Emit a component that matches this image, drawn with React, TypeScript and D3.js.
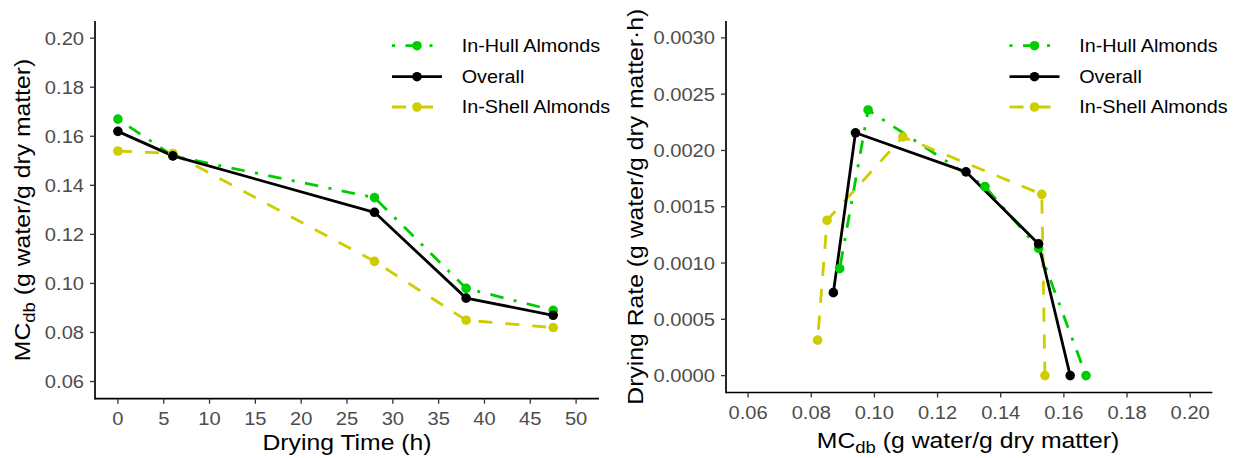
import React from "react";
import * as d3 from "d3";

// ---- data ----
const seriesNames = ["In-Hull Almonds", "Overall", "In-Shell Almonds"];
const dryingTimeH = [0, 6, 28, 38, 47.5];
const mcInHull = [0.167, 0.152, 0.135, 0.098, 0.089];
const mcOverall = [0.162, 0.152, 0.129, 0.094, 0.087];
const mcInShell = [0.154, 0.153, 0.109, 0.085, 0.082];
const rateInHull = [0, 0.00113, 0.00168, 0.00236, 0.00095];
const rateOverall = [0, 0.00117, 0.00181, 0.002157, 0.000737];
const rateInShell = [0, 0.00161, 0.00212, 0.00138, 0.000315];
const timeTicks = [0, 5, 10, 15, 20, 25, 30, 35, 40, 45, 50];
const mcTicks = [0.06, 0.08, 0.1, 0.12, 0.14, 0.16, 0.18, 0.2];
const rateTicks = [0, 0.0005, 0.001, 0.0015, 0.002, 0.0025, 0.003];

const FONT = "'Liberation Sans', Arial, sans-serif";
const SX = 1.1;
const TICK_COL = "#4D4D4D";

type Style = { color: string; dash: string | undefined };
const styles: Record<string, Style> = {
  "In-Hull Almonds": { color: "#00CD00", dash: "3,10.5,13.5,10.5" },
  Overall: { color: "#000000", dash: undefined },
  "In-Shell Almonds": { color: "#CDCD00", dash: "14,13" },
};
const drawOrder = ["In-Hull Almonds", "In-Shell Almonds", "Overall"];

function Txt(props: {
  x: number; y: number; rot?: number; anchor?: string; size: number; fill?: string; children: any;
}) {
  const { x, y, rot = 0, anchor = "start", size, fill = "#000", children } = props;
  return (
    <g transform={`translate(${x},${y}) rotate(${rot}) scale(${SX},1)`}>
      <text textAnchor={anchor as any} fontSize={size} fill={fill} fontFamily={FONT}>
        {children}
      </text>
    </g>
  );
}

function MCLabel() {
  return (
    <>
      <tspan>MC</tspan>
      <tspan fontSize="75%" dy={5}>db</tspan>
      <tspan dy={-5}> (g water/g dry matter)</tspan>
    </>
  );
}

type Panel = {
  x: d3.ScaleLinear<number, number>;
  y: d3.ScaleLinear<number, number>;
  xTicks: number[];
  yTicks: number[];
  xFmt: (v: number) => string;
  yFmt: (v: number) => string;
  data: Record<string, { xs: number[]; ys: number[] }>;
  legendX: number;
};

function PanelView({ p }: { p: Panel }) {
  const [x0, x1] = p.x.range();
  const [y0, y1] = p.y.range(); // y0 bottom, y1 top
  const line = d3.line<[number, number]>().x((d) => p.x(d[0])).y((d) => p.y(d[1]));
  const legendRows = [45.7, 76.7, 107];
  return (
    <g>
      {/* axes */}
      <line x1={x0} x2={x1} y1={y0} y2={y0} stroke="#000" strokeWidth={1.7} />
      <line x1={x0} x2={x0} y1={y0 + 0.85} y2={y1} stroke="#000" strokeWidth={1.7} />
      {p.xTicks.map((t) => (
        <g key={"xt" + t}>
          <line x1={p.x(t)} x2={p.x(t)} y1={y0} y2={y0 + 5} stroke="#333" strokeWidth={1.3} />
          <Txt x={p.x(t)} y={y0 + 26.3} anchor="middle" size={18.3} fill={TICK_COL}>
            {p.xFmt(t)}
          </Txt>
        </g>
      ))}
      {p.yTicks.map((t) => (
        <g key={"yt" + t}>
          <line x1={x0 - 5} x2={x0} y1={p.y(t)} y2={p.y(t)} stroke="#333" strokeWidth={1.3} />
          <Txt x={x0 - 11} y={p.y(t) + 6.5} anchor="end" size={18.3} fill={TICK_COL}>
            {p.yFmt(t)}
          </Txt>
        </g>
      ))}
      {/* lines */}
      {drawOrder.map((name) => {
        const s = styles[name];
        const d = p.data[name];
        const pts = d.xs.map((v, i) => [v, d.ys[i]] as [number, number]);
        return (
          <path key={"l" + name} d={line(pts) || ""} fill="none" stroke={s.color}
            strokeWidth={2.8} strokeDasharray={s.dash} strokeLinejoin="round" />
        );
      })}
      {/* points */}
      {drawOrder.map((name) => {
        const s = styles[name];
        const d = p.data[name];
        return d.xs.map((v, i) => (
          <circle key={"p" + name + i} cx={p.x(v)} cy={p.y(d.ys[i])} r={4.8} fill={s.color} />
        ));
      })}
      {/* legend */}
      {seriesNames.map((name, i) => {
        const s = styles[name];
        const yy = legendRows[i];
        return (
          <g key={"lg" + name}>
            <line x1={p.legendX} x2={p.legendX + 50} y1={yy} y2={yy} stroke={s.color}
              strokeWidth={2.8} strokeDasharray={s.dash} />
            <circle cx={p.legendX + 25} cy={yy} r={4.8} fill={s.color} />
            <Txt x={p.legendX + 69.7} y={yy + 6.4} size={18} fill="#000">{name}</Txt>
          </g>
        );
      })}
    </g>
  );
}

export default function App() {
  const left: Panel = {
    x: d3.scaleLinear().domain([-2.5, 52.5]).range([95, 599]),
    y: d3.scaleLinear().domain([0.053, 0.207]).range([398.7, 21]),
    xTicks: timeTicks,
    yTicks: mcTicks,
    xFmt: (v) => String(v),
    yFmt: d3.format(".2f"),
    data: {
      "In-Hull Almonds": { xs: dryingTimeH, ys: mcInHull },
      Overall: { xs: dryingTimeH, ys: mcOverall },
      "In-Shell Almonds": { xs: dryingTimeH, ys: mcInShell },
    },
    legendX: 392,
  };
  const right: Panel = {
    x: d3.scaleLinear().domain([0.053, 0.207]).range([726, 1212.3]),
    y: d3.scaleLinear().domain([-0.00015, 0.00315]).range([392.5, 21]),
    xTicks: mcTicks,
    yTicks: rateTicks,
    xFmt: d3.format(".2f"),
    yFmt: d3.format(".4f"),
    data: {
      "In-Hull Almonds": { xs: mcInHull, ys: rateInHull },
      Overall: { xs: mcOverall, ys: rateOverall },
      "In-Shell Almonds": { xs: mcInShell, ys: rateInShell },
    },
    legendX: 1009.5,
  };
  return (
    <svg width={1240} height={458} style={{ position: "absolute", left: 0, top: 0, background: "#fff" }}
      fontFamily={FONT}>
      <rect width={1240} height={458} fill="#fff" />
      <PanelView p={left} />
      <PanelView p={right} />
      {/* axis titles */}
      <Txt x={29.5} y={210} rot={-90} anchor="middle" size={22.5}><MCLabel /></Txt>
      <Txt x={347} y={450} anchor="middle" size={22.5}>Drying Time (h)</Txt>
      <Txt x={643} y={206.7} rot={-90} anchor="middle" size={22.5}>
        Drying Rate (g water/g dry matter·h)
      </Txt>
      <Txt x={968} y={448} anchor="middle" size={22.5}><MCLabel /></Txt>
    </svg>
  );
}
